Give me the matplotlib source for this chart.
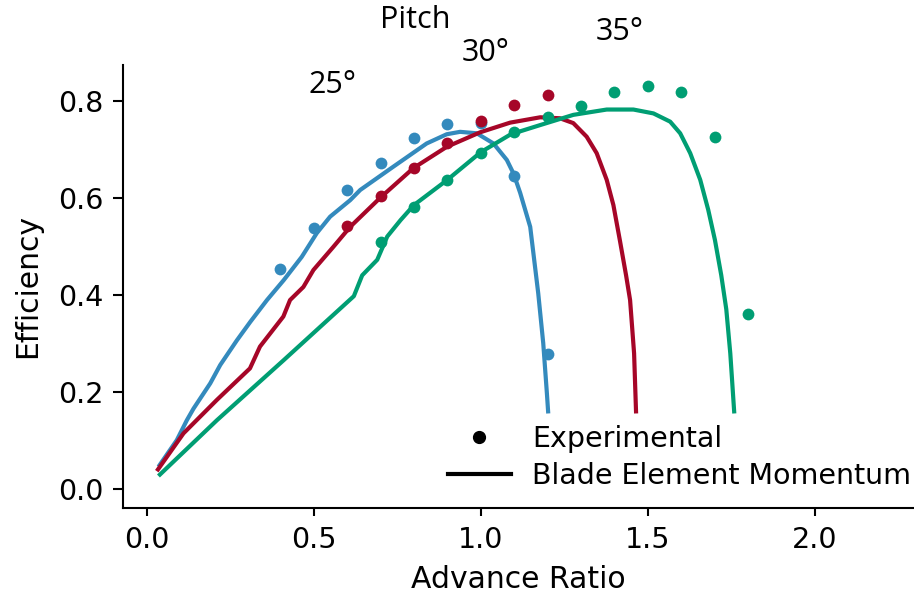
import matplotlib
matplotlib.use('Agg')
import matplotlib.pyplot as plt
from matplotlib.lines import Line2D

# experimental points, advance ratio vs efficiency
exp_x_25 = [0.4, 0.5, 0.6, 0.7, 0.8, 0.9, 1.0, 1.1, 1.2]
exp_y_25 = [0.454, 0.538, 0.616, 0.672, 0.724, 0.752, 0.754, 0.644, 0.277]

exp_x_30 = [0.6, 0.7, 0.8, 0.9, 1.0, 1.1, 1.2]
exp_y_30 = [0.542, 0.604, 0.661, 0.713, 0.759, 0.791, 0.812]

exp_x_35 = [0.7, 0.8, 0.9, 1.0, 1.1, 1.2, 1.3, 1.4, 1.5, 1.6, 1.7, 1.8]
exp_y_35 = [0.509, 0.581, 0.637, 0.692, 0.736, 0.766, 0.789, 0.819, 0.831, 0.818, 0.726, 0.360]

# blade element momentum curves
bem_x_25 = [0.035, 0.09, 0.12, 0.14, 0.19, 0.22, 0.27, 0.31, 0.36, 0.41, 0.464, 0.509,
            0.549, 0.609, 0.639, 0.738, 0.838, 0.898, 0.938, 0.988, 1.038, 1.078, 1.098,
            1.118, 1.148, 1.172, 1.187, 1.198, 1.202]
bem_y_25 = [0.045, 0.100, 0.141, 0.165, 0.217, 0.255, 0.306, 0.344, 0.389, 0.430, 0.478, 0.527,
            0.561, 0.595, 0.616, 0.664, 0.712, 0.731, 0.736, 0.733, 0.712, 0.678, 0.650,
            0.610, 0.540, 0.403, 0.300, 0.196, 0.155]

bem_x_30 = [0.03, 0.11, 0.21, 0.309, 0.339, 0.409, 0.429, 0.469, 0.499, 0.559, 0.609, 0.699,
            0.798, 0.898, 0.998, 1.088, 1.178, 1.237, 1.277, 1.317, 1.347, 1.377, 1.397,
            1.417, 1.435, 1.447, 1.459, 1.465]
bem_y_30 = [0.036, 0.114, 0.183, 0.248, 0.293, 0.355, 0.389, 0.416, 0.451, 0.499, 0.540, 0.600,
            0.661, 0.705, 0.735, 0.755, 0.766, 0.764, 0.754, 0.726, 0.692, 0.637, 0.585,
            0.510, 0.440, 0.389, 0.279, 0.155]

bem_x_35 = [0.035, 0.21, 0.41, 0.62, 0.645, 0.69, 0.72, 0.76, 0.80, 0.90, 1.0, 1.09, 1.178,
            1.277, 1.377, 1.457, 1.517, 1.567, 1.597, 1.627, 1.657, 1.681, 1.701, 1.720,
            1.735, 1.747, 1.759]
bem_y_35 = [0.026, 0.141, 0.265, 0.397, 0.440, 0.472, 0.520, 0.554, 0.585, 0.637, 0.694, 0.731, 0.750,
            0.771, 0.782, 0.782, 0.774, 0.757, 0.733, 0.692, 0.637, 0.575, 0.513, 0.440,
            0.370, 0.279, 0.155]

pitch_labels = ['25°', '30°', '35°']
colors = ['#348ABD', '#A60628', '#009E73']

W, H = 914, 596
fig = plt.figure(figsize=(W / 100, H / 100), dpi=100)
ax = fig.add_axes([122.7 / W, 1 - 507.5 / H, (913 - 122.7) / W, (507.5 - 64.7) / H])

for bx, by, c in zip([bem_x_25, bem_x_30, bem_x_35], [bem_y_25, bem_y_30, bem_y_35], colors):
    ax.plot(bx, by, color=c, lw=3, solid_capstyle='butt', solid_joinstyle='round')
for ex, ey, c in zip([exp_x_25, exp_x_30, exp_x_35], [exp_y_25, exp_y_30, exp_y_35], colors):
    ax.scatter(ex, ey, s=72, color=c, zorder=3, linewidths=0)

ax.set_xlim(-0.072, 2.294)
ax.set_ylim(-0.039, 0.8745)
ax.set_xticks([0.0, 0.5, 1.0, 1.5, 2.0])
ax.set_yticks([0.0, 0.2, 0.4, 0.6, 0.8])
ax.spines['top'].set_visible(False)
ax.spines['right'].set_visible(False)
for s in ('left', 'bottom'):
    ax.spines[s].set_linewidth(1.5)
ax.tick_params(labelsize=20.5, width=1.5)
ax.tick_params(axis='x', length=6, pad=7.5)
ax.tick_params(axis='y', length=7, pad=6.5)
ax.set_xlabel('Advance Ratio', fontsize=21.5, labelpad=7.5)
ax.set_ylabel('Efficiency', fontsize=21.5, labelpad=12)

handles = [Line2D([], [], marker='o', ls='', color='k', markersize=8.5),
           Line2D([], [], color='k', lw=3)]
fig.legend(handles, ['Experimental', 'Blade Element Momentum'], loc='center left',
           bbox_to_anchor=(448 / W, 1 - 457.5 / H), frameon=False, fontsize=20.5,
           borderaxespad=0, borderpad=0, handlelength=2.2, handletextpad=0.75,
           labelspacing=0.3)

# pitch annotations
fig.text(415 / W, 1 - 20 / H, 'Pitch', fontsize=22, family='Open Sans', ha='center', va='center')
for (px, py), lab in zip([(333, 85), (486, 53), (620, 32)], pitch_labels):
    fig.text(px / W, 1 - py / H, lab, fontsize=22, family='Open Sans', ha='center', va='center')

fig.savefig('out.png', dpi=100)
